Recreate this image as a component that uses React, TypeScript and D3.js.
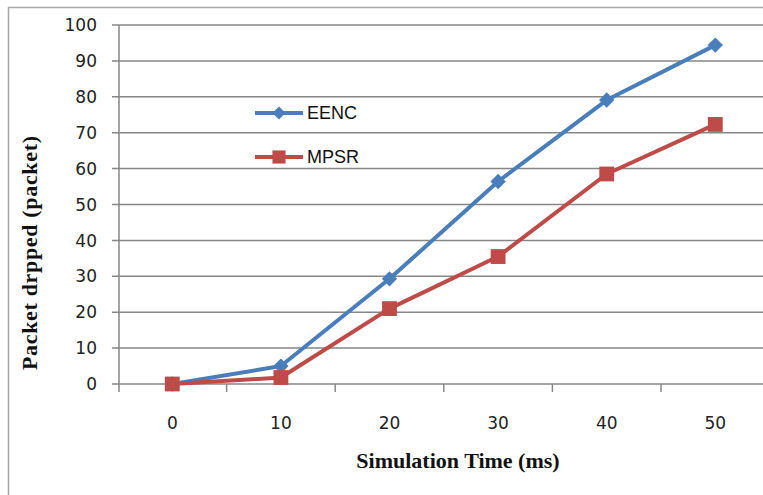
import React, { useEffect, useRef } from 'react'
import * as d3 from 'd3'

// chart data
const categories = ['0', '10', '20', '30', '40', '50']
const eencValues = [0, 5, 29.3, 56.4, 79.1, 94.4]
const mpsrValues = [0, 1.8, 21, 35.5, 58.5, 72.3]
const yTicks = [0, 10, 20, 30, 40, 50, 60, 70, 80, 90, 100]

const W = 763
const H = 495

export default function App() {
  const svgRef = useRef<SVGSVGElement>(null)

  useEffect(() => {
    const svg = d3.select(svgRef.current)
    svg.selectAll('*').remove()

    const left = 119
    const top = 25
    const bottom = 384
    const band = 108.6

    const x = d3.scaleBand<string>()
      .domain(categories)
      .range([left - 1, left - 1 + band * categories.length])
    const y = d3.scaleLinear().domain([0, 100]).range([bottom, top])

    // white background and outer frame
    svg.append('rect').attr('width', W).attr('height', H).attr('fill', '#fff')
    svg.append('path')
      .attr('d', `M8.5,${H} V7.5 H${W}`)
      .attr('fill', 'none')
      .attr('stroke', '#a6a6a6')
      .attr('stroke-width', 1.5)

    // horizontal gridlines + y tick marks
    svg.append('g').selectAll('line')
      .data(yTicks)
      .join('line')
      .attr('x1', left - 7)
      .attr('x2', W)
      .attr('y1', d => y(d))
      .attr('y2', d => y(d))
      .attr('stroke', '#868686')
      .attr('stroke-width', 1.5)

    // y axis line
    svg.append('line')
      .attr('x1', left).attr('x2', left)
      .attr('y1', top).attr('y2', bottom + 8)
      .attr('stroke', '#868686').attr('stroke-width', 1.5)

    // x tick marks on category boundaries
    svg.append('g').selectAll('line')
      .data(categories.slice(1))
      .join('line')
      .attr('x1', d => x(d)!)
      .attr('x2', d => x(d)!)
      .attr('y1', bottom)
      .attr('y2', bottom + 8)
      .attr('stroke', '#868686')
      .attr('stroke-width', 1.5)

    // y tick labels
    svg.append('g').selectAll('text')
      .data(yTicks)
      .join('text')
      .attr('x', 97)
      .attr('y', d => y(d))
      .attr('dy', '0.36em')
      .attr('text-anchor', 'end')
      .attr('font-family', 'DejaVu Sans')
      .attr('font-size', 17)
      .attr('fill', '#222')
      .text(d => d)

    // x tick labels
    svg.append('g').selectAll('text')
      .data(categories)
      .join('text')
      .attr('x', d => x(d)! + x.bandwidth() / 2)
      .attr('y', 423)
      .attr('dy', '0.36em')
      .attr('text-anchor', 'middle')
      .attr('font-family', 'DejaVu Sans')
      .attr('font-size', 17)
      .attr('fill', '#222')
      .text(d => d)

    // axis titles
    svg.append('text')
      .attr('x', 458)
      .attr('y', 468)
      .attr('text-anchor', 'middle')
      .attr('font-family', 'Liberation Serif')
      .attr('font-weight', 'bold')
      .attr('font-size', 22)
      .attr('fill', '#111')
      .text('Simulation Time (ms)')

    svg.append('text')
      .attr('transform', 'translate(37,253) rotate(-90)')
      .attr('text-anchor', 'middle')
      .attr('font-family', 'Liberation Serif')
      .attr('font-weight', 'bold')
      .attr('font-size', 22)
      .attr('fill', '#111')
      .attr('textLength', 234)
      .text('Packet drpped (packet)')

    const cx = (i: number) => x(categories[i])! + x.bandwidth() / 2
    const lineGen = d3.line<number>().x((d, i) => cx(i)).y(d => y(d))

    const diamond = d3.symbol().type(d3.symbolDiamond2).size(150)
    const square = d3.symbol().type(d3.symbolSquare2).size(280)
    const legendDiamond = d3.symbol().type(d3.symbolDiamond2).size(110)
    const legendSquare = d3.symbol().type(d3.symbolSquare2).size(220)

    const series = [
      { name: 'EENC', values: eencValues, color: '#4a7ebb', shape: diamond, legendShape: legendDiamond },
      { name: 'MPSR', values: mpsrValues, color: '#be4b48', shape: square, legendShape: legendSquare },
    ]

    series.forEach(s => {
      svg.append('path')
        .datum(s.values)
        .attr('fill', 'none')
        .attr('stroke', s.color)
        .attr('stroke-width', 4)
        .attr('stroke-linejoin', 'round')
        .attr('d', lineGen)
    })
    series.forEach(s => {
      svg.append('g').selectAll('path')
        .data(s.values)
        .join('path')
        .attr('transform', (d, i) => `translate(${cx(i)},${y(d)})`)
        .attr('d', s.shape()!)
        .attr('fill', s.color)
    })

    // legend
    const legendY = [113, 157]
    series.forEach((s, i) => {
      const g = svg.append('g').attr('transform', `translate(255,${legendY[i]})`)
      g.append('line')
        .attr('x1', 0).attr('x2', 48)
        .attr('stroke', s.color).attr('stroke-width', 4)
      g.append('path')
        .attr('transform', 'translate(24,0)')
        .attr('d', s.legendShape()!)
        .attr('fill', s.color)
      g.append('text')
        .attr('x', 52)
        .attr('dy', '0.36em')
        .attr('font-family', 'Liberation Sans')
        .attr('font-size', 18)
        .attr('fill', '#111')
        .text(s.name)
    })
  }, [])

  return (
    <svg
      ref={svgRef}
      width={W}
      height={H}
      style={{ position: 'absolute', left: 0, top: 0, display: 'block' }}
    />
  )
}
